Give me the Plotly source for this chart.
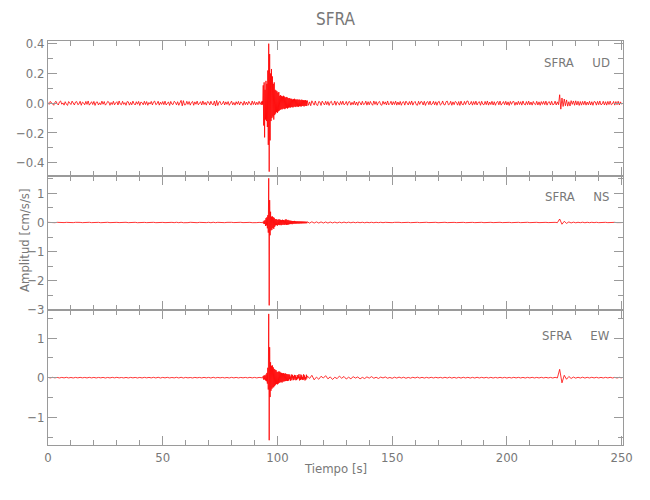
import numpy as np
import plotly.graph_objects as go
from plotly.subplots import make_subplots

# ---- time grids (s) ----
t_ud = np.concatenate([np.arange(0, 93, 0.5), 93.0 + 0.2 * np.arange(100), np.arange(113, 250.01, 0.5)])
t_hz = np.concatenate([np.arange(0, 93, 1.0), 93.0 + 0.2 * np.arange(100), np.arange(113, 250.01, 1.0)])

# ---- amplitudes in thousandths of cm/s/s ----
ud_pre = [5,-8,12,3,-11,-14,6,13,-4,-12,9,15,-7,2,-13,10,-6,-15,11,4,
 -9,14,-3,-12,8,11,-10,-5,13,-14,7,2,-11,12,-8,15,-13,-2,10,-9,
 12,-15,6,9,-12,3,-10,14,-7,11,-13,-4,12,8,-14,5,-9,13,-11,2,
 10,-12,15,-6,-10,13,-8,4,-14,11,9,-13,6,-11,14,-3,-12,10,-7,12,
 -15,8,3,-11,13,-9,11,-14,5,-6,12,-12,9,14,-10,-4,13,-13,7,-8,
 11,-10,14,-12,2,9,-15,12,-6,-9,13,6,-11,10,-14,8,19,-18,17,-12,
 -10,13,-8,11,-13,5,12,-14,9,-7,14,-11,-3,10,-12,15,-9,6,-13,11,
 8,-12,13,-6,-11,14,-19,18,-15,7,12,-10,-4,13,-12,9,-8,11,-14,6,
 14,-11,5,-13,10,-7,12,-12,9,3,-14,13,-10,8,-11,12,-6,-13,15,-9,
 11,-12,7,-10,13,-8]
ud_event = [10,-12,14,-9,
 120,-150,140,-230,90,-110,150,-120,130,-160,
 220,-280,400,-460,330,-250,
 200,-120,230,-100,180,-90,130,-110,140,-80,
 90,-70,85,-60,80,-65,70,-55,75,-50,
 50,-45,55,-40,48,-42,45,-38,50,-35,
 45,-40,38,-35,42,-32,40,-36,35,-30,
 32,-28,35,-30,28,-26,30,-27,25,-28,
 27,-24,30,-22,25,-26,24,-21,26,-23,
 22,-24,25,-20,23,-21,20,-22,24,-19,
 21,-18,20,-22,19,-17,21,-18,17,-19]
ud_post = [18,-14,9,-17,16,4,-13,15,-11,-16,12,8,-15,14,-6,-12,13,-10,11,-15,
 7,13,-12,-8,15,-14,10,3,-13,12,-9,14,-11,-5,12,-14,9,11,-13,6,
 -10,14,-12,8,-15,11,5,-12,13,-9,-6,14,-13,10,-11,12,-4,-14,15,-8,
 11,-13,6,12,-10,-14,13,-7,9,-12,15,-11,-3,13,-12,10,-9,14,-13,8,
 -11,12,-14,7,10,-13,14,-6,-12,11,-9,15,-13,4,12,-10,-14,13,-8,11,
 9,-12,13,-15,6,11,-10,14,-12,-5,13,-11,10,-14,8,12,-13,-6,15,-9,
 -12,10,14,-11,-7,13,-14,9,-10,12,6,-13,11,-15,14,-8,-11,12,-9,13,
 15,-10,-6,12,-13,11,-9,14,-12,5,10,-14,13,-7,-11,12,-10,15,-13,8,
 -9,13,-12,10,-14,6,12,-11,14,-13,-4,11,-10,13,-12,9,-15,12,-8,10,
 12,-14,7,-11,13,-9,10,-13,15,-6,-12,11,-10,14,-11,8,-13,12,-5,-10,
 13,-12,9,-14,11,-8,12,-10,14,-13,6,10,-12,13,-11,-7,14,-12,9,-10,
 57,-40,35,-22,28,-17,22,-20,10,-19,17,-8,15,-14,16,-12,13,-15,11,-13,
 12,-10,14,-13,8,-11,13,-12,10,-14,11,9,-13,12,-10,15,-11,-6,13,-12,
 10,-13,12,-9,14,-11,-5,12,-13,11,-10,13,-12,9,-8]

ns_pre = [5,-6,4,-7,6,-5,7,-4,5,-6,3,-5,6,-7,4,-6,5,-4,7,-5,
 6,-4,5,-7,4,-6,7,-5,3,-6,5,-4,6,-5,7,-6,4,-5,6,-7,
 5,-6,4,-5,7,-4,6,-6,5,-7,4,-5,6,-4,5,-6,8,-7,9,-8,
 6,-5,7,-6,4,-7,5,-6,6,-5,7,-8,9,-7,6,-5,4,-6,5,-7,
 6,-4,5,-6,7,-5,4,-6,5,-7,6,-5,4]
ns_event = [6,-5,7,-6,
 30,-40,60,-50,80,-120,150,-100,180,-200,
 250,-350,1520,-2850,770,-440,
 370,-270,200,-250,210,-190,180,-220,160,-150,
 110,-100,120,-90,100,-110,90,-80,110,-90,
 100,-80,90,-95,80,-85,95,-70,85,-80,
 75,-80,100,-70,110,-85,80,-75,90,-70,
 70,-60,65,-55,60,-50,55,-60,50,-45,
 50,-45,55,-40,45,-42,40,-38,42,-35,
 40,-36,38,-34,40,-32,35,-33,36,-30,
 34,-30,32,-28,30,-29,28,-26,27,-25]
ns_post = [25,-22,24,-20,21,-19,20,-18,17,-19,
 16,-15,14,-16,13,-12,14,-11,12,-10,
 11,-9,10,-8,9,-10,8,-7,8,-9,
 7,-6,8,-7,6,-5,7,-6,5,-7,
 6,-5,7,-6,5,-6,4,-7,6,-5,
 5,-6,7,-4,6,-5,6,-7,5,-4,
 7,-5,6,-6,4,-5,6,-7,5,-6,
 4,-6,5,-5,7,-4,6,-6,5,-7,
 6,-5,4,-6,7,-5,6,-4,5,-6,
 5,-7,6,-5,4,-6,7,-5,6,-4,
 6,-5,7,-6,5,-4,6,-7,5,-6,
 120,-60,40,-30,20,-15,12,-10,8,-7,
 10,-9,8,-7,8,-6,7,-6,5,-7,
 6,-5,4,-6,5,-5,6,-4]

ew_pre = [7,-6,8,-5,6,-8,7,-6,9,-7,5,-8,7,-6,8,-5,6,-7,8,-6,
 7,-8,6,-5,7,-9,6,-7,8,-5,9,-6,5,-7,6,-8,7,-5,6,-8,
 6,-7,8,-5,7,-6,9,-8,10,-9,7,-6,8,-7,5,-6,9,-8,10,-9,
 7,-6,5,-8,7,-5,6,-7,8,-6,7,-9,10,-8,7,-6,6,-7,5,-8,
 8,-6,7,-7,6,-5,7,-6,8,-6,7,-7,6]
ew_event = [8,-7,9,-6,
 40,-50,60,-45,55,-70,80,-90,120,-150,
 250,-300,1610,-1580,770,-490,
 390,-330,300,-280,310,-250,260,-240,220,-210,
 200,-180,190,-160,150,-170,140,-150,160,-130,
 150,-120,130,-110,120,-125,110,-100,115,-95,
 100,-90,110,-85,95,-80,90,-85,80,-75,
 85,-40,75,-80,30,-65,80,-20,70,-65,
 35,-60,70,-25,60,-65,15,-60,65,-30,
 60,-15,90,-70,25,-60,80,-40,60,-55,
 20,-60,85,-35,55,-70,10,-50,75,-20]
ew_post = [45,-20,60,-55,15,-40,35,-10,50,-30,
 20,-45,10,-25,40,-15,30,-35,12,-28,
 25,-10,18,-30,8,-22,20,-12,26,-15,
 10,-20,15,-8,18,-14,6,-16,12,-10,
 14,-9,11,-15,7,-12,10,-8,13,-10,
 9,-10,8,-9,10,-8,9,-7,8,-9,
 10,-9,11,-10,8,-11,9,-10,10,-8,
 9,-10,8,-9,10,-8,9,-7,8,-9,
 8,-9,7,-8,9,-7,8,-9,7,-8,
 9,-7,8,-8,7,-9,8,-7,9,-8,
 7,-8,9,-7,8,-8,7,-9,8,-7,
 210,-130,60,-40,30,-20,15,-12,10,-9,
 12,-10,9,-8,10,-7,9,-8,7,-8,
 8,-7,9,-8,7,-9,8,-7]

station = "SFRA"
components = ["UD", "NS", "EW"]
x_ticks = [0, 50, 100, 150, 200, 250]

series = [
    (t_ud, np.array(ud_pre + ud_event + ud_post) / 1000.0),
    (t_hz, np.array(ns_pre + ns_event + ns_post) / 1000.0),
    (t_hz, np.array(ew_pre + ew_event + ew_post) / 1000.0),
]

FONT = "Liberation Sans Narrow, DejaVu Sans Condensed, Arial Narrow, sans-serif"
AX = "#9a9a9a"
TXT = "#787878"

fig = make_subplots(rows=3, cols=1, shared_xaxes=True, vertical_spacing=0)
for i, (tx, y) in enumerate(series):
    fig.add_trace(go.Scatter(x=tx, y=y, mode="lines",
                             line=dict(color="#ff0000", width=0.8),
                             hoverinfo="skip", showlegend=False),
                  row=i + 1, col=1)

common = dict(showline=True, linecolor=AX, linewidth=1, mirror="allticks",
              ticks="inside", ticklen=9, tickcolor=AX, tickwidth=1,
              showgrid=False, zeroline=False, automargin=False,
              tickfont=dict(family=FONT, size=13, color=TXT))

for r in (1, 2, 3):
    fig.update_xaxes(range=[0, 250.6], tickvals=x_ticks,
                     minor=dict(ticks="inside", ticklen=5, tickcolor=AX, dtick=10, tick0=0, showgrid=False),
                     showticklabels=(r == 3), row=r, col=1, **common)

fig.update_yaxes(range=[-0.487, 0.418], tickvals=[-0.4, -0.2, 0, 0.2, 0.4], tickformat=".1f",
                 minor=dict(ticks="inside", ticklen=5, tickcolor=AX, dtick=0.1, tick0=0, showgrid=False),
                 row=1, col=1, **common)
fig.update_yaxes(range=[-3.02, 1.61], dtick=1, tick0=0,
                 minor=dict(ticks="inside", ticklen=5, tickcolor=AX, dtick=0.5, tick0=0, showgrid=False),
                 row=2, col=1, **common)
fig.update_yaxes(range=[-1.70, 1.70], dtick=1, tick0=0,
                 minor=dict(ticks="inside", ticklen=5, tickcolor=AX, dtick=0.5, tick0=0, showgrid=False),
                 row=3, col=1, **common)

nb = "\u00a0"
label_y = [0.948, 0.616, 0.272]
annotations = []
for comp, yy in zip(components, label_y):
    annotations.append(dict(text=station + nb * 5 + comp, xref="paper", yref="paper",
                            x=0.98, y=yy, xanchor="right", yanchor="middle", showarrow=False,
                            font=dict(family=FONT, size=13, color=TXT)))
annotations.append(dict(text="Amplitud [cm/s/s]", xref="paper", yref="paper",
                        x=-0.04, y=0.505, textangle=-90, xanchor="center", yanchor="middle",
                        showarrow=False, font=dict(family=FONT, size=13, color=TXT)))
annotations.append(dict(text="Tiempo [s]", xref="paper", yref="paper",
                        x=0.5, y=-0.057, xanchor="center", yanchor="middle",
                        showarrow=False, font=dict(family=FONT, size=13, color=TXT)))
annotations.append(dict(text=station, xref="paper", yref="paper",
                        x=0.5, y=1.0, yshift=22, xanchor="center", yanchor="middle",
                        showarrow=False, font=dict(family=FONT, size=17, color=TXT)))

fig.update_layout(width=650, height=500, margin=dict(l=40, r=35, t=33, b=63),
                  paper_bgcolor="white", plot_bgcolor="white",
                  annotations=annotations, showlegend=False)

fig.write_html("out.html")
